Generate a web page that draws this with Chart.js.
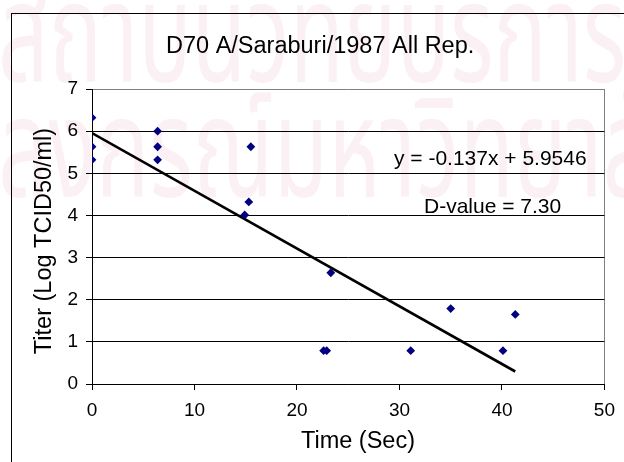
<!DOCTYPE html>
<html>
<head>
<meta charset="utf-8">
<script src="https://cdn.jsdelivr.net/npm/chart.js@4.4.0/dist/chart.umd.min.js"></script>
<style>
  html, body { margin: 0; padding: 0; background: #fff; }
  #wrap { position: relative; width: 624px; height: 462px; overflow: hidden; }
  #frame { position: absolute; left: 11px; top: 13px; width: 700px; height: 600px;
           border-left: 1px solid #000; border-top: 1px solid #000; pointer-events: none; }
  canvas { position: absolute; left: 0; top: 0; }
</style>
</head>
<body>
<div id="wrap">
  <canvas id="c" width="624" height="462"></canvas>
  <div id="frame"></div>
</div>
<script>
// Survival titer of D70 A/Saraburi/1987 over exposure time (all replicates)
const timeSec = [0, 0, 0, 6.4, 6.4, 6.4, 14.9, 15.3, 15.5, 22.6, 22.9, 23.3, 31.1, 35.0, 40.1, 41.3];
const titerLog = [6.32, 5.63, 5.32, 6.0, 5.63, 5.32, 4.01, 4.32, 5.63, 0.79, 0.79, 2.64, 0.79, 1.79, 0.79, 1.65];

// Fitted regression line (as printed on the chart)
const slope = -0.137;
const intercept = 5.9546;
const fitRange = [0, 41.3];
const dValue = 7.30;

const xTicks = [0, 10, 20, 30, 40, 50];
const yTicks = [0, 1, 2, 3, 4, 5, 6, 7];

const titleText = 'D70 A/Saraburi/1987 All Rep.';
const xTitle = 'Time (Sec)';
const yTitle = 'Titer (Log TCID50/ml)';
const eqText = 'y = ' + slope.toFixed(3) + 'x + ' + intercept.toFixed(4);
const dText = 'D-value = ' + dValue.toFixed(2);
const watermark = ['สถาบันวิทยบริการ', 'จุฬาลงกรณ์มหาวิทยาลัย'];

const FONT = "'Liberation Sans', Arial, sans-serif";
const THAI = "'Noto Sans Thai', 'Loma', 'Garuda', 'Norasi', sans-serif";

const fitPoints = fitRange.map(x => ({ x: x, y: slope * x + intercept }));

const textPlugin = {
  id: 'chartTexts',
  beforeDraw(chart) {
    // faint institutional watermark behind the chart
    const ctx = chart.ctx;
    ctx.save();
    ctx.fillStyle = '#fbf1f4';
    ctx.textBaseline = 'alphabetic';
    ctx.textAlign = 'left';
    ctx.font = '100px ' + THAI;
    const sx = 628 / ctx.measureText(watermark[0]).width;
    const sy = 1.4;
    const lead = ctx.measureText('จุฬา').width;
    ctx.save();
    ctx.translate(-2, 82);
    ctx.scale(sx, sy);
    ctx.fillText(watermark[0], 0, 0);
    ctx.restore();
    ctx.save();
    ctx.translate(-lead * sx - 2, 197);
    ctx.scale(sx, sy);
    ctx.fillText(watermark[1], 0, 0);
    ctx.restore();
    ctx.restore();
  },
  afterDraw(chart) {
    const ctx = chart.ctx;
    ctx.save();
    ctx.fillStyle = '#000';
    ctx.textBaseline = 'alphabetic';
    ctx.textAlign = 'left';
    ctx.font = '23.5px ' + FONT;
    ctx.fillText(titleText, 166, 53);
    ctx.font = '21px ' + FONT;
    ctx.fillText(eqText, 394, 165);
    ctx.fillText(dText, 424, 213);
    ctx.textAlign = 'center';
    ctx.font = '23.5px ' + FONT;
    ctx.fillText(xTitle, 358, 448);
    ctx.translate(51, 241);
    ctx.rotate(-Math.PI / 2);
    ctx.fillText(yTitle, 0, 0);
    ctx.restore();
  }
};

new Chart(document.getElementById('c'), {
  type: 'scatter',
  data: {
    datasets: [
      {
        label: 'Titer',
        data: timeSec.map((t, i) => ({ x: t, y: titerLog[i] })),
        pointStyle: 'rectRot',
        pointRadius: 4.4,
        pointBackgroundColor: '#000080',
        pointBorderColor: '#000080',
        pointBorderWidth: 0,
        showLine: false
      },
      {
        label: 'Linear fit',
        data: fitPoints,
        showLine: true,
        borderColor: '#000',
        borderWidth: 2.6,
        pointRadius: 0,
        fill: false
      }
    ]
  },
  options: {
    responsive: false,
    animation: false,
    events: [],
    layout: { padding: { left: 0, top: 89, right: 13, bottom: 0 } },
    plugins: { legend: { display: false }, tooltip: { enabled: false }, title: { display: false } },
    scales: {
      x: {
        type: 'linear',
        min: 0, max: 50,
        afterBuildTicks(scale) { scale.ticks = xTicks.map(v => ({ value: v })); },
        afterFit(scale) { scale.height = 78; },
        border: { display: true, color: '#000', width: 1 },
        grid: {
          drawOnChartArea: true,
          color: c => (c.tick && c.tick.value === 50 ? '#808080' : 'rgba(0,0,0,0)'),
          tickColor: '#000',
          tickLength: 6,
          lineWidth: 1
        },
        ticks: { color: '#000', font: { family: FONT, size: 19 }, padding: 9, maxRotation: 0 }
      },
      y: {
        type: 'linear',
        min: 0, max: 7,
        afterBuildTicks(scale) { scale.ticks = yTicks.map(v => ({ value: v })); },
        afterFit(scale) { scale.width = 92; },
        border: { display: true, color: '#000', width: 1 },
        grid: {
          color: c => (c.tick && c.tick.value === 7 ? '#808080' : '#000'),
          tickColor: '#000',
          tickLength: 6,
          lineWidth: 1
        },
        ticks: { color: '#000', font: { family: FONT, size: 19 }, padding: 8 }
      }
    }
  },
  plugins: [textPlugin]
});
</script>
</body>
</html>
